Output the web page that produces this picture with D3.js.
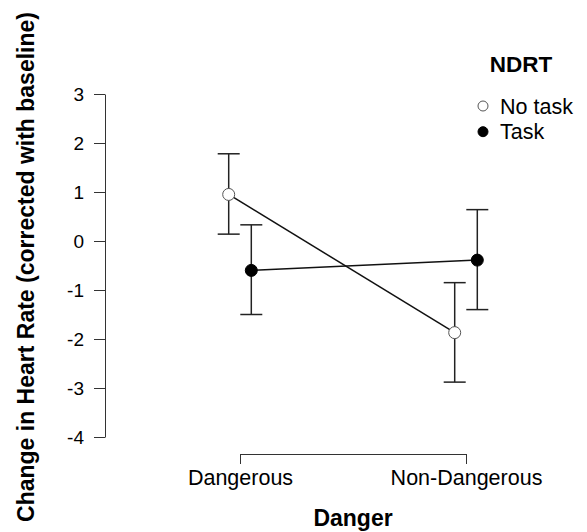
<!DOCTYPE html>
<html><head><meta charset="utf-8">
<script src="https://cdn.jsdelivr.net/npm/d3@7"></script>
<style>body{margin:0;background:#fff}text{font-family:"Liberation Sans",Arial,sans-serif}</style>
</head><body><svg id="c" width="587" height="532"></svg>
<script>
const categories = ["Dangerous", "Non-Dangerous"];
const seriesNames = ["No task", "Task"];
const noTaskMean = [0.95, -1.87];
const noTaskLow = [0.14, -2.88];
const noTaskHigh = [1.78, -0.85];
const taskMean = [-0.60, -0.39];
const taskLow = [-1.50, -1.40];
const taskHigh = [0.33, 0.64];
const yTicks = [-4, -3, -2, -1, 0, 1, 2, 3];

const svg = d3.select("#c");
const y = d3.scaleLinear().domain([-4, 3]).range([437, 94]);
const x = d3.scalePoint().domain(categories).range([240, 466]).padding(0);
const dodge = d3.scalePoint().domain(seriesNames).range([-11.3, 11.3]);
const axisColor = "#333";
const ff = "Liberation Sans, Arial, sans-serif";

// y axis
const gy = svg.append("g").attr("transform", "translate(105,0)")
  .call(d3.axisLeft(y).tickValues(yTicks).tickFormat(d => String(d)).tickSizeOuter(0).tickSizeInner(11).tickPadding(10));
gy.select(".domain").attr("stroke", axisColor);
gy.selectAll(".tick line").attr("stroke", axisColor);
gy.selectAll(".tick text").attr("font-size", 19).attr("fill", "#000").attr("font-family", ff);

// x axis bracket
const gx = svg.append("g").attr("transform", "translate(0,454)")
  .call(d3.axisBottom(x).tickSizeOuter(0).tickSizeInner(10).tickPadding(6));
gx.select(".domain").attr("stroke", axisColor);
gx.selectAll(".tick line").attr("stroke", axisColor);
gx.selectAll(".tick text").attr("font-size", 21.5).attr("fill", "#000").attr("font-family", ff);

// axis titles
svg.append("text").attr("x", 353).attr("y", 526).attr("text-anchor", "middle")
  .attr("font-weight", "bold").attr("font-size", 23).text("Danger");
svg.append("text").attr("transform", "translate(34,267) rotate(-90)").attr("text-anchor", "middle")
  .attr("font-weight", "bold").attr("font-size", 23).text("Change in Heart Rate (corrected with baseline)");

const series = [
  {name: "No task", mean: noTaskMean, low: noTaskLow, high: noTaskHigh, fill: "#fff"},
  {name: "Task", mean: taskMean, low: taskLow, high: taskHigh, fill: "#000"}
];
const line = d3.line().x(d => d.x).y(d => d.y);
series.forEach(s => {
  const pts = categories.map((c, i) => ({x: x(c) + dodge(s.name), y: y(s.mean[i]), lo: y(s.low[i]), hi: y(s.high[i])}));
  const g = svg.append("g");
  g.append("path").attr("d", line(pts)).attr("fill", "none").attr("stroke", "#111").attr("stroke-width", 1.5);
  pts.forEach(p => {
    g.append("line").attr("x1", p.x).attr("x2", p.x).attr("y1", p.lo).attr("y2", p.hi).attr("stroke", "#222").attr("stroke-width", 1.5);
    [p.lo, p.hi].forEach(v => g.append("line").attr("x1", p.x - 11).attr("x2", p.x + 11).attr("y1", v).attr("y2", v).attr("stroke", "#222").attr("stroke-width", 1.5));
  });
  pts.forEach(p => {
    g.append("circle").attr("cx", p.x).attr("cy", p.y).attr("r", 6).attr("fill", s.fill).attr("stroke", s.fill === "#fff" ? "#555" : "#000").attr("stroke-width", 1);
  });
});

// legend
const leg = svg.append("g");
leg.append("text").attr("x", 521).attr("y", 72).attr("text-anchor", "middle").attr("font-weight", "bold").attr("font-size", 22.5).text("NDRT");
series.forEach((s, i) => {
  const yy = 106 + i * 25.7;
  leg.append("circle").attr("cx", 483).attr("cy", yy).attr("r", 5).attr("fill", s.fill).attr("stroke", s.fill === "#fff" ? "#555" : "#000");
  leg.append("text").attr("x", 500).attr("y", yy + 7.7).attr("font-size", 21.5).text(s.name);
});
</script></body></html>
